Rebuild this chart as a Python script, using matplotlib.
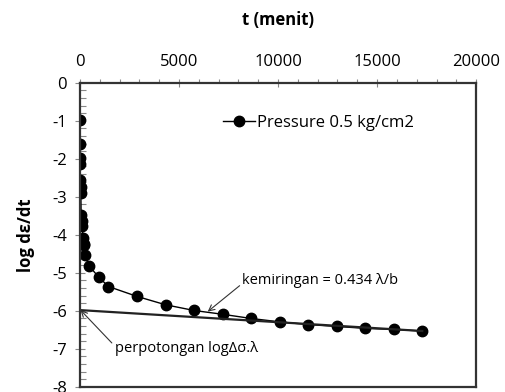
import matplotlib
matplotlib.use("Agg")
import matplotlib.pyplot as plt
from matplotlib.ticker import MultipleLocator

plt.rcParams['font.family'] = ['Open Sans', 'DejaVu Sans']
plt.rcParams['axes.unicode_minus'] = False

# time in minutes and log of strain rate
t_menit = [1, 2, 4, 8, 15, 30, 45, 60, 90, 120, 150, 180, 210, 240, 480, 960,
           1440, 2880, 4320, 5760, 7200, 8640, 10080, 11520, 12960, 14400, 15840, 17280]
log_rate = [-0.98, -1.62, -1.97, -2.13, -2.55, -2.73, -2.91, -3.47, -3.63, -3.77,
            -4.09, -4.25, -4.27, -4.54, -4.83, -5.12,
            -5.36, -5.62, -5.84, -5.99, -6.09, -6.20, -6.29, -6.36, -6.41, -6.46, -6.49, -6.53]

# tangent line drawn on the late part of the curve
tangent_t = [0, 17280]
tangent_y = [-5.98, -6.53]

series_name = "Pressure 0.5 kg/cm2"
slope_text = "kemiringan = 0.434 λ/b"
intercept_text = "perpotongan logΔσ.λ"

fig = plt.figure(figsize=(5.06, 3.92), dpi=100)
ax = fig.add_axes([0.158, 0.013, 0.783, 0.776])

ax.plot(t_menit, log_rate, color="black", marker="o", markersize=7.5, linewidth=1,
        label=series_name)
ax.plot(tangent_t, tangent_y, color="#222222", linewidth=1.6)

ax.set_xlim(0, 20000)
ax.set_ylim(-8, 0)
ax.xaxis.set_major_locator(MultipleLocator(5000))
ax.xaxis.set_minor_locator(MultipleLocator(1000))
ax.yaxis.set_major_locator(MultipleLocator(1))
ax.yaxis.set_minor_locator(MultipleLocator(0.2))
ax.xaxis.tick_top()
ax.xaxis.set_label_position("top")

ax.tick_params(axis="x", which="major", direction="inout", length=6, width=0.8,
               color="#888888", labelsize=12, pad=6)
ax.tick_params(axis="x", which="minor", direction="out", length=3, width=0.8, color="#888888")
ax.tick_params(axis="y", which="major", direction="inout", length=7, width=0.8,
               color="#888888", labelsize=12, pad=6)
ax.tick_params(axis="y", which="minor", direction="in", length=4, width=0.8, color="#888888")

for side in ["top", "bottom", "left", "right"]:
    ax.spines[side].set_color("#333333")
    ax.spines[side].set_linewidth(1.6)

ax.set_xlabel("t (menit)", fontsize=12, fontweight="bold", labelpad=21)
ax.set_ylabel("log dε/dt", fontsize=12, fontweight="bold", labelpad=12)

ax.legend(loc="upper left", bbox_to_anchor=(0.345, 0.915), frameon=False, fontsize=12,
          handlelength=1.9, handletextpad=0.15, borderaxespad=0)

ax.annotate(slope_text, xy=(6450, -6.02), xytext=(8200, -5.2), fontsize=10.5,
            ha="left", va="center",
            arrowprops=dict(arrowstyle="->", color="#333333", lw=0.8, shrinkA=0, shrinkB=0,
                            relpos=(0, 0.3)))
ax.annotate(intercept_text, xy=(30, -5.98), xytext=(1750, -7.0), fontsize=10.5,
            ha="left", va="center",
            arrowprops=dict(arrowstyle="->", color="#333333", lw=0.8, shrinkA=0, shrinkB=0,
                            relpos=(0, 0.7)))

fig.savefig("out.png", dpi=100)
plt.close(fig)
